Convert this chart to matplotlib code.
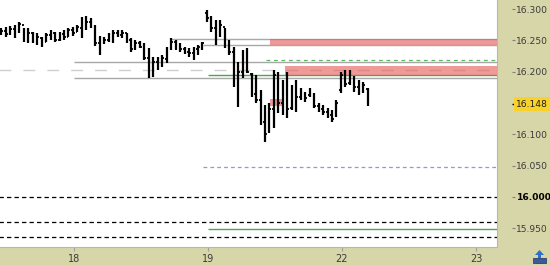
import matplotlib as mpl
mpl.use('Agg')
import matplotlib.pyplot as plt
from matplotlib.lines import Line2D
from matplotlib.patches import Rectangle, Polygon
import numpy as np

# ---- data ----
day_labels = ["18", "19", "22", "23"]
price_ticks = [15.95, 16.00, 16.05, 16.10, 16.20, 16.25, 16.30]
last_price = 16.148

bars_per_day = 30
first_bar = -0.541   # position of the first bar, in trading days from "18"

bar_high = [16.270, 16.271, 16.273, 16.274, 16.279, 16.270, 16.270, 16.263, 16.262, 16.255,
            16.262, 16.266, 16.263, 16.263, 16.266, 16.270, 16.271, 16.274, 16.287, 16.289,
            16.286, 16.274, 16.257, 16.255, 16.262, 16.266, 16.266, 16.266, 16.262, 16.254,
            16.250, 16.249, 16.246, 16.238, 16.223, 16.223, 16.227, 16.239, 16.254, 16.250,
            16.246, 16.239, 16.238, 16.239, 16.243, 16.247, 16.298, 16.289, 16.282, 16.282,
            16.270, 16.250, 16.239, 16.215, 16.234, 16.238, 16.198, 16.195, 16.171, 16.147,
            16.150, 16.203, 16.199, 16.187, 16.199, 16.179, 16.187, 16.174, 16.167, 16.174,
            16.166, 16.150, 16.147, 16.142, 16.139, 16.155, 16.199, 16.203, 16.203, 16.193,
            16.187, 16.183, 16.174]
bar_low = [16.258, 16.255, 16.258, 16.254, 16.262, 16.247, 16.246, 16.246, 16.243, 16.239,
           16.247, 16.250, 16.247, 16.249, 16.250, 16.255, 16.257, 16.263, 16.254, 16.266,
           16.270, 16.241, 16.227, 16.244, 16.247, 16.246, 16.255, 16.254, 16.246, 16.231,
           16.234, 16.238, 16.219, 16.190, 16.191, 16.203, 16.207, 16.214, 16.234, 16.234,
           16.231, 16.228, 16.223, 16.219, 16.227, 16.234, 16.279, 16.263, 16.243, 16.255,
           16.238, 16.227, 16.175, 16.143, 16.190, 16.198, 16.159, 16.150, 16.115, 16.088,
           16.102, 16.110, 16.134, 16.131, 16.126, 16.139, 16.135, 16.155, 16.151, 16.159,
           16.142, 16.135, 16.131, 16.126, 16.120, 16.128, 16.166, 16.175, 16.179, 16.167,
           16.163, 16.166, 16.145]
bar_open = [16.262, 16.265, 16.260, 16.268, 16.264, 16.274, 16.252, 16.262, 16.250, 16.254,
            16.248, 16.258, 16.262, 16.251, 16.260, 16.256, 16.266, 16.264, 16.270, 16.284,
            16.279, 16.272, 16.246, 16.246, 16.250, 16.256, 16.262, 16.258, 16.262, 16.250,
            16.236, 16.245, 16.240, 16.222, 16.198, 16.215, 16.210, 16.220, 16.236, 16.248,
            16.240, 16.236, 16.232, 16.230, 16.236, 16.240, 16.294, 16.285, 16.270, 16.258,
            16.272, 16.242, 16.232, 16.190, 16.200, 16.225, 16.196, 16.165, 16.155, 16.120,
            16.106, 16.140, 16.195, 16.150, 16.170, 16.142, 16.170, 16.160, 16.165, 16.162,
            16.165, 16.145, 16.140, 16.135, 16.130, 16.130, 16.170, 16.195, 16.182, 16.190,
            16.175, 16.170, 16.172]
bar_close = [16.265, 16.260, 16.268, 16.258, 16.276, 16.252, 16.262, 16.250, 16.255, 16.242,
             16.258, 16.262, 16.250, 16.260, 16.255, 16.266, 16.262, 16.272, 16.284, 16.280,
             16.276, 16.246, 16.240, 16.250, 16.258, 16.262, 16.258, 16.262, 16.250, 16.236,
             16.245, 16.240, 16.222, 16.198, 16.215, 16.210, 16.222, 16.236, 16.248, 16.240,
             16.236, 16.232, 16.230, 16.236, 16.240, 16.246, 16.285, 16.270, 16.250, 16.275,
             16.242, 16.232, 16.190, 16.200, 16.225, 16.200, 16.165, 16.155, 16.120, 16.100,
             16.140, 16.195, 16.150, 16.170, 16.140, 16.170, 16.160, 16.168, 16.158, 16.165,
             16.145, 16.140, 16.135, 16.130, 16.125, 16.150, 16.195, 16.180, 16.198, 16.175,
             16.170, 16.178, 16.148]

# horizontal levels
gray_levels = [(16.216, 0.0), (16.189, 0.0), (16.2522, 0.716), (16.2425, 0.963)]
black_dashed = [16.000, 15.960, 15.935]
green_solid = [(16.195, 1.0), (15.948, 1.0)]
green_dashed = (16.219, 1.433)
blue_dashed = (16.048, 0.963)
light_dashed = 16.203
zones = [(16.2425, 16.2522, 1.463, 3.2), (16.1945, 16.2085, 1.575, 3.2)]
small_zone = (16.1445, 16.1565, 1.463, 1.567)

khaki = '#d7d6a8'
fig = plt.figure(figsize=(5.5, 2.65), dpi=100, facecolor=khaki)
ax = fig.add_axes([0, 18 / 265, 497 / 550, 247 / 265])
ax.set_facecolor('white')
ax.set_xlim(-0.552, 3.157)
ax.set_ylim(15.9198, 16.3144)
xmax = 3.2

# levels
for y, x0 in gray_levels:
  ax.hlines(y, x0, xmax, color='#a8a8a8', lw=1.0, zorder=1)
ax.hlines(light_dashed, -0.6, xmax, color='#cfcfcf', lw=1.0, ls=(0, (8.6, 8.6)), zorder=1)
for y in black_dashed:
  ax.hlines(y, -0.6, xmax, color='black', lw=0.9, ls=(0, (3.5, 2.5)), zorder=1)
for y, x0 in green_solid:
  ax.hlines(y, x0, xmax, color='#4ea64a', lw=1.0, zorder=1)
ax.hlines(green_dashed[0], green_dashed[1], xmax, color='#5cb860', lw=0.9, ls=(0, (3, 3)), zorder=1)
ax.hlines(blue_dashed[0], blue_dashed[1], xmax, color='#8a9ec8', lw=0.9, ls=(0, (3, 2.5)), zorder=1)

for lo, hi, x0, x1 in zones:
  ax.fill_between([x0, x1], lo, hi, color='#e85a5a', alpha=0.62, lw=0, zorder=2)
lo, hi, x0, x1 = small_zone
ax.fill_between([x0, x1], lo, hi, color='#e85a5a', alpha=0.62, lw=0, zorder=2)

# OHLC bars
n = len(bar_high)
xb = first_bar + np.arange(n) / bars_per_day
tick = 0.012
ax.vlines(xb, bar_low, bar_high, color='black', lw=1.6, zorder=3)
ax.hlines(bar_open, xb - tick, xb, color='black', lw=1.3, zorder=3)
ax.hlines(bar_close, xb, xb + tick, color='black', lw=1.3, zorder=3)

# axes styling
for s in ['left', 'top', 'right']:
  ax.spines[s].set_visible(False)
ax.spines['bottom'].set_color('#b8b8a8')
ax.spines['right'].set_position(('outward', 10.5))

ax.yaxis.tick_right()
ax.set_yticks(price_ticks)
ax.set_yticklabels(['%.3f' % p for p in price_ticks])
ax.tick_params(axis='y', which='major', direction='out', length=2.5, width=0.8,
               color='#808080', pad=1, labelsize=6.6, labelcolor='#3a3a3a')
for lab, p in zip(ax.get_yticklabels(), price_ticks):
  if abs(p - 16.0) < 1e-6:
    lab.set_fontweight('bold')
    lab.set_color('black')
ax.set_yticks([last_price], minor=True)
ax.tick_params(axis='y', which='minor', direction='out', length=2.5, width=1.0,
               color='black', labelright=False)

ax.set_xticks(range(len(day_labels)))
ax.set_xticklabels(day_labels)
ax.tick_params(axis='x', direction='out', length=3, width=0.8, color='#a0a0a0',
               pad=2, labelsize=7, labelcolor='#3a3a3a')

# current price label
ax.annotate('%.3f' % last_price, xy=(1, last_price), xycoords=('axes fraction', 'data'),
            xytext=(14.0, 0), textcoords='offset points', ha='left', va='center',
            fontsize=6.6, color='#202020',
            bbox=dict(boxstyle='square,pad=0.3', fc='#f8d22a', ec='none'))

# border between plot and price axis
fig.add_artist(Line2D([497 / 550, 497 / 550], [18 / 265, 1], color='#b8b8a8', lw=0.8))

# small icon in the corner
fig.patches.append(Rectangle((533 / 550, 2 / 265), 13 / 550, 5 / 265, transform=fig.transFigure,
                             fc='#3a5a9a', ec='#203060', lw=0.5))
fig.patches.append(Polygon([[535 / 550, 10 / 265], [539.5 / 550, 15 / 265], [544 / 550, 10 / 265]],
                           closed=True, transform=fig.transFigure, fc='#2a70d0', ec='none'))
fig.patches.append(Rectangle((538.3 / 550, 7 / 265), 2.5 / 550, 3.5 / 265, transform=fig.transFigure,
                             fc='#2a70d0', ec='none'))

fig.savefig('out.png', dpi=100, facecolor=khaki)
